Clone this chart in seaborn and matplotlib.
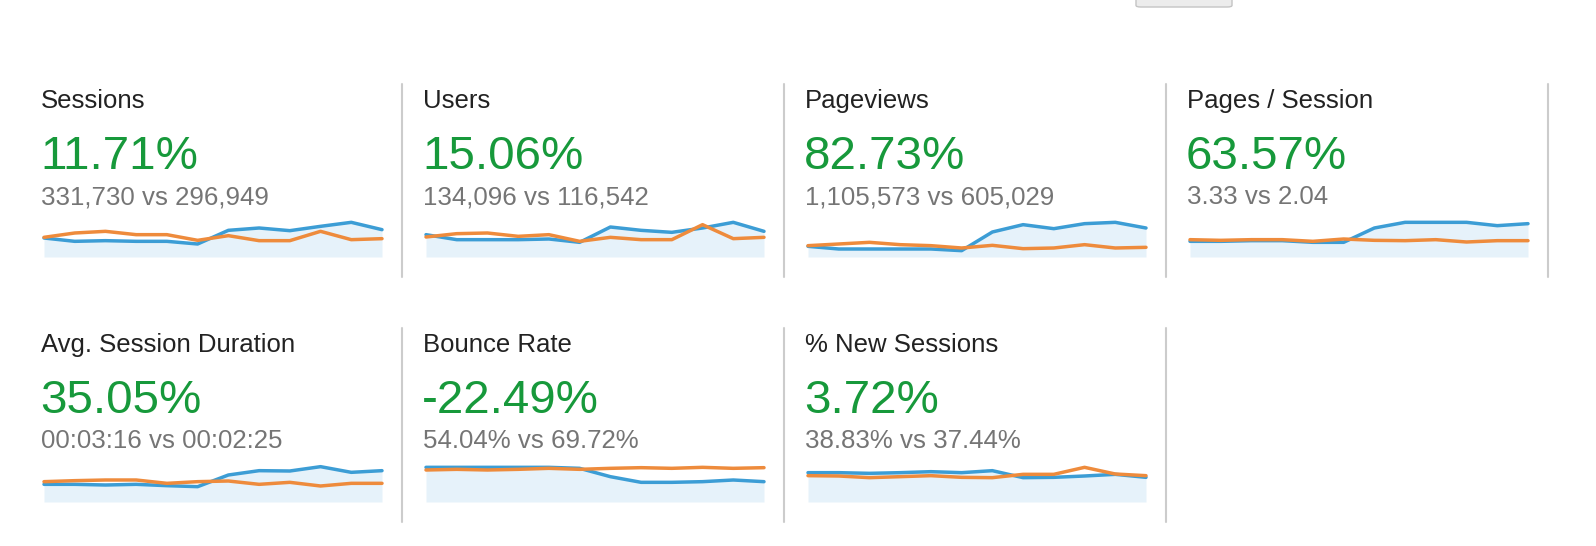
import matplotlib
matplotlib.use("Agg")
import matplotlib.pyplot as plt
import seaborn as sns
import pandas as pd
from matplotlib.patches import FancyBboxPatch
from matplotlib.lines import Line2D

sns.set_theme(style="white")
plt.rcParams["font.family"] = ["Liberation Sans", "DejaVu Sans"]

# ---------------- data ----------------
metrics = ["Sessions", "Users", "Pageviews", "Pages / Session",
           "Avg. Session Duration", "Bounce Rate", "% New Sessions"]
changes = ["11.71%", "15.06%", "82.73%", "63.57%", "35.05%", "-22.49%", "3.72%"]
comparisons = ["331,730 vs 296,949", "134,096 vs 116,542", "1,105,573 vs 605,029",
               "3.33 vs 2.04", "00:03:16 vs 00:02:25", "54.04% vs 69.72%",
               "38.83% vs 37.44%"]
periods = list(range(12))

# relative sparkline heights (current period = blue, previous period = orange)
sessions_cur = [57, 47, 49, 47, 47, 39, 80, 87, 79, 92, 104, 82]
sessions_prev = [59, 72, 77, 67, 67, 50, 64, 49, 49, 77, 52, 55]
users_cur = [67, 52, 52, 52, 54, 44, 90, 80, 74, 87, 104, 77]
users_prev = [60, 70, 72, 62, 67, 47, 59, 52, 52, 97, 55, 59]
pageviews_cur = [32, 24, 24, 24, 24, 19, 75, 97, 85, 100, 104, 87]
pageviews_prev = [34, 39, 44, 37, 34, 27, 35, 25, 27, 37, 27, 29]
pps_cur = [47, 47, 49, 49, 44, 44, 87, 104, 104, 104, 94, 100]
pps_prev = [52, 50, 52, 52, 47, 54, 50, 49, 52, 45, 49, 49]
duration_cur = [53, 53, 51, 53, 49, 46, 81, 94, 93, 106, 89, 94]
duration_prev = [61, 64, 66, 66, 56, 61, 63, 53, 59, 48, 56, 56]
bounce_cur = [104, 104, 104, 104, 104, 101, 76, 59, 59, 61, 66, 61]
bounce_prev = [96, 98, 96, 98, 101, 98, 101, 103, 101, 104, 101, 103]
newsess_cur = [88, 88, 86, 88, 91, 88, 94, 73, 74, 78, 83, 74]
newsess_prev = [79, 78, 73, 76, 79, 74, 73, 83, 83, 104, 84, 79]

current_series = [sessions_cur, users_cur, pageviews_cur, pps_cur,
                  duration_cur, bounce_cur, newsess_cur]
previous_series = [sessions_prev, users_prev, pageviews_prev, pps_prev,
                   duration_prev, bounce_prev, newsess_prev]

# ---------------- style ----------------
W, H = 1596, 546
BLUE = "#3c9dd5"
ORANGE = "#ee8b3c"
FILL = "#e6f2fa"
GREEN = "#17993b"
GRAY = "#757575"
DARK = "#222222"
DIV = "#cccccc"

fig = plt.figure(figsize=(W / 100, H / 100), dpi=100)


def fx(x):
    return x / W


def fy(y):
    return 1 - y / H


col_x0, col_dx = 41, 382
row_dy = 244

for i, name in enumerate(metrics):
    r, c = divmod(i, 4)
    tx = col_x0 + c * col_dx
    oy = r * row_dy
    fig.text(fx(tx), fy(108 + oy), name, fontsize=18.5, color=DARK,
             ha="left", va="baseline")
    fig.text(fx(tx - 1), fy(169 + oy), changes[i], fontsize=34.2, color=GREEN,
             ha="left", va="baseline")
    fig.text(fx(tx), fy(204 + oy), comparisons[i], fontsize=18.6, color=GRAY,
             ha="left", va="baseline")

    # sparkline
    left = tx + 3
    bottom = 257 + oy + (1 if r else 0)
    ax = fig.add_axes([fx(left), fy(bottom), 338 / W, 35 / H])
    df = pd.DataFrame({"period": periods,
                       "current": current_series[i],
                       "previous": previous_series[i]})
    ax.fill_between(df["period"], 0, df["current"], color=FILL, lw=0, zorder=1)
    sns.lineplot(data=df, x="period", y="current", ax=ax, color=BLUE,
                 lw=2.5, zorder=3)
    sns.lineplot(data=df, x="period", y="previous", ax=ax, color=ORANGE,
                 lw=2.5, zorder=4)
    for ln in ax.lines:
        ln.set_clip_on(False)
        ln.set_solid_joinstyle("round")
    ax.set_xlim(0, 11)
    ax.set_ylim(0, 105)
    ax.axis("off")

    # divider to the right of each tile
    dx = tx + col_dx - 22 + 1
    y_top, y_bot = 84 + oy, 277 + oy + (1 if r else 0)
    fig.add_artist(Line2D([fx(dx), fx(dx)], [fy(y_top), fy(y_bot)],
                          transform=fig.transFigure, color=DIV, lw=1.5))

# partial button at the top of the page
btn = FancyBboxPatch((fx(1136), fy(7)), 96 / W, 20 / H,
                     boxstyle="round,pad=0,rounding_size=0.003",
                     transform=fig.transFigure, facecolor="#ececec",
                     edgecolor="#c4c4c4", lw=1.0)
fig.add_artist(btn)

fig.savefig("out.png", dpi=100)
